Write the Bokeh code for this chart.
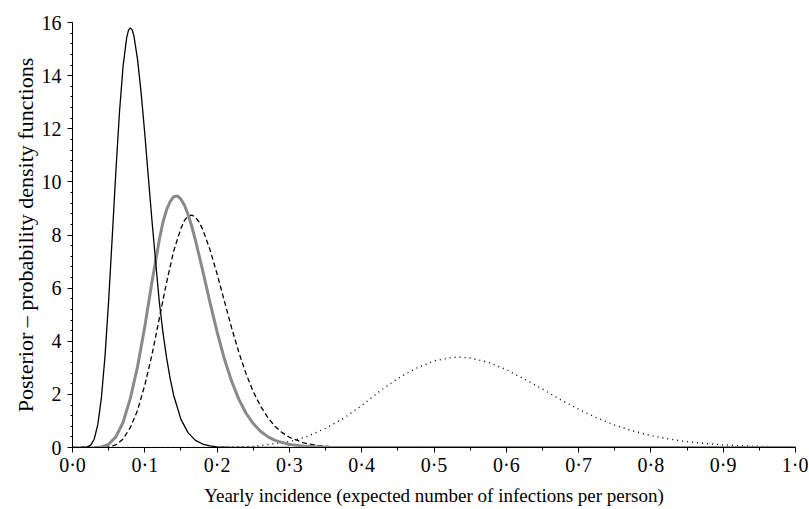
from bokeh.plotting import figure
from bokeh.models import Range1d, FixedTicker
from bokeh.embed import file_html
from bokeh.resources import INLINE

# ---- data ----
x_solid = [0.0, 0.01, 0.02, 0.025, 0.03, 0.035, 0.04, 0.045, 0.05, 0.055, 0.06, 0.065, 0.07, 0.075, 0.0775,
           0.08, 0.0825, 0.085, 0.09, 0.095, 0.10, 0.105, 0.11, 0.115, 0.12, 0.125, 0.13, 0.135, 0.14,
           0.15, 0.16, 0.17, 0.18, 0.19, 0.20, 0.22, 0.25, 0.30]
y_solid = [0.0, 0.0, 0.02, 0.08, 0.31, 0.86, 1.88, 3.45, 5.53, 7.94, 10.4, 12.63, 14.37, 15.44, 15.71,
           15.8, 15.72, 15.49, 14.6, 13.33, 11.8, 10.14, 8.52, 6.99, 5.5, 4.35, 3.4, 2.6, 1.96,
           1.06, 0.55, 0.27, 0.13, 0.06, 0.026, 0.005, 0.0, 0.0]

x_gray = [0.03, 0.04, 0.05, 0.06, 0.07, 0.08, 0.09, 0.10, 0.11, 0.12, 0.125, 0.13, 0.135, 0.14, 0.145,
          0.15, 0.155, 0.16, 0.165, 0.17, 0.18, 0.19, 0.20, 0.21, 0.22, 0.23, 0.24, 0.25, 0.26, 0.27,
          0.28, 0.30, 0.32, 0.35, 0.40, 0.50, 0.70, 1.00]
y_gray = [0.0, 0.02, 0.12, 0.4, 0.95, 1.85, 3.05, 4.55, 6.25, 7.8, 8.47, 8.94, 9.26, 9.44, 9.47,
          9.35, 9.11, 8.76, 8.32, 7.81, 6.67, 5.48, 4.35, 3.34, 2.5, 1.82, 1.29, 0.9, 0.61, 0.41,
          0.27, 0.11, 0.044, 0.01, 0.0, 0.0, 0.0, 0.0]

x_dash = [0.0, 0.04, 0.05, 0.06, 0.07, 0.08, 0.09, 0.10, 0.11, 0.12, 0.13, 0.14, 0.15, 0.155, 0.16,
          0.165, 0.17, 0.175, 0.18, 0.19, 0.20, 0.21, 0.22, 0.23, 0.24, 0.25, 0.26, 0.27, 0.28, 0.29,
          0.30, 0.32, 0.34, 0.36, 0.40, 0.50, 1.00]
y_dash = [0.0, 0.0, 0.02, 0.1, 0.32, 0.75, 1.4, 2.35, 3.5, 4.85, 6.2, 7.4, 8.25, 8.56, 8.71,
          8.75, 8.67, 8.49, 8.22, 7.46, 6.53, 5.52, 4.51, 3.59, 2.78, 2.1, 1.56, 1.13, 0.8, 0.56,
          0.385, 0.17, 0.074, 0.03, 0.0, 0.0, 0.0]

x_dot = [0.0, 0.10, 0.20, 0.25, 0.30, 0.325, 0.35, 0.375, 0.40, 0.425, 0.45, 0.475, 0.50, 0.525,
         0.535, 0.55, 0.575, 0.60, 0.625, 0.65, 0.675, 0.70, 0.725, 0.75, 0.775, 0.80, 0.825,
         0.85, 0.875, 0.90, 0.925, 0.95, 0.975, 1.00]
y_dot = [0.0, 0.0, 0.005, 0.04, 0.22, 0.42, 0.72, 1.1, 1.58, 2.12, 2.6, 2.98, 3.26, 3.39,
         3.40, 3.37, 3.21, 2.93, 2.58, 2.2, 1.8, 1.44, 1.12, 0.84, 0.625, 0.45, 0.318,
         0.22, 0.15, 0.10, 0.066, 0.043, 0.027, 0.017]

x_ticks = [0.0, 0.1, 0.2, 0.3, 0.4, 0.5, 0.6, 0.7, 0.8, 0.9, 1.0]
x_tick_labels = ["0·0", "0·1", "0·2", "0·3", "0·4", "0·5", "0·6", "0·7", "0·8", "0·9", "1·0"]
y_ticks = [0, 2, 4, 6, 8, 10, 12, 14, 16]

x_label = "Yearly incidence (expected number of infections per person)"
y_label = "Posterior – probability density functions"

FONT = "Liberation Serif"

p = figure(width=808, height=508, output_backend="svg", toolbar_location=None,
           x_range=Range1d(0, 1.0), y_range=Range1d(0, 16),
           min_border_left=72, min_border_right=13, min_border_top=22, min_border_bottom=40)
p.outline_line_color = None
p.xgrid.grid_line_color = None
p.ygrid.grid_line_color = None
p.background_fill_color = "white"

p.line(x_dot, y_dot, line_color="black", line_width=1.4, line_dash="1 4")
p.line(x_dash, y_dash, line_color="black", line_width=1.3, line_dash="5 3")
p.line(x_gray, y_gray, line_color="#8a8a8a", line_width=3)
p.line(x_solid, y_solid, line_color="black", line_width=1.3)

xa = p.xaxis[0]
xa.ticker = FixedTicker(ticks=x_ticks, minor_ticks=[i * 0.05 for i in range(21)])
xa.major_label_overrides = {t: l for t, l in zip(x_ticks, x_tick_labels)}
xa.axis_label = x_label
ya = p.yaxis[0]
ya.ticker = FixedTicker(ticks=y_ticks, minor_ticks=[i * 0.4 for i in range(41)])
ya.axis_label = y_label

for ax in (xa, ya):
    ax.axis_line_color = "black"
    ax.axis_line_width = 1
    ax.major_tick_line_color = "black"
    ax.minor_tick_line_color = "black"
    ax.major_tick_in = 0
    ax.minor_tick_in = 0
    ax.major_label_text_font = FONT
    ax.major_label_text_font_size = "20px"
    ax.major_label_text_color = "black"
    ax.axis_label_text_font = FONT
    ax.axis_label_text_font_style = "normal"
    ax.axis_label_text_color = "black"

xa.axis_label_text_font_size = "19px"
ya.axis_label_text_font_size = "22px"

xa.major_tick_out = 5
xa.minor_tick_out = 3
xa.major_label_standoff = 1
xa.axis_label_standoff = 6
ya.major_tick_out = 5
ya.minor_tick_out = 2
ya.major_label_standoff = 6
ya.axis_label_standoff = 1

open("out.html", "w").write(file_html(p, INLINE))
